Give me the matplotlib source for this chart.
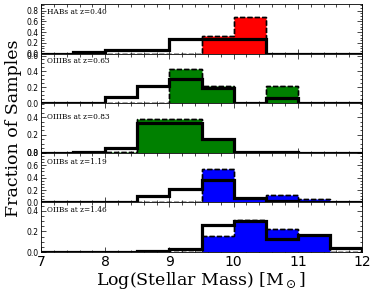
import numpy as np
import matplotlib
matplotlib.use("Agg")
import matplotlib.pyplot as plt
from matplotlib.ticker import MultipleLocator, AutoMinorLocator

edges = np.arange(7.0, 12.01, 0.5)

labels = ["HABs at z=0.40", "OIIIBs at z=0.63", "OIIIBs at z=0.83",
          "OIIBs at z=1.19", "OIIBs at z=1.46"]
colors = ["#ff0000", "#008000", "#008000", "#0000ff", "#0000ff"]

# bins: 7-7.5, 7.5-8, 8-8.5, 8.5-9, 9-9.5, 9.5-10, 10-10.5, 10.5-11, 11-11.5, 11.5-12
all_samples = [
    [0.0, 0.03, 0.063, 0.063, 0.27, 0.27, 0.27, 0.0, 0.0, 0.0],
    [0.0, 0.0, 0.075, 0.21, 0.30, 0.195, 0.0, 0.0625, 0.0, 0.0],
    [0.0, 0.01, 0.05, 0.33, 0.335, 0.15, 0.01, 0.01, 0.0, 0.0],
    [0.0, 0.0, 0.0, 0.10, 0.22, 0.355, 0.07, 0.027, 0.01, 0.0],
    [0.0, 0.0, 0.0, 0.01, 0.033, 0.26, 0.30, 0.13, 0.17, 0.043],
]
selected = [
    [0.0, 0.0, 0.0, 0.0, 0.0, 0.335, 0.68, 0.0, 0.0, 0.0],
    [0.0, 0.0, 0.0, 0.0, 0.43, 0.21, 0.0, 0.215, 0.0, 0.0],
    [0.0, 0.0, 0.01, 0.377, 0.377, 0.155, 0.0, 0.0, 0.0, 0.0],
    [0.0, 0.0, 0.0, 0.0, 0.0, 0.545, 0.065, 0.125, 0.055, 0.0],
    [0.0, 0.0, 0.0, 0.0, 0.0, 0.155, 0.315, 0.22, 0.17, 0.0],
]
ylims = [0.93, 0.625, 0.555, 0.8, 0.48]
label_y = [0.84, 0.84, 0.73, 0.81, 0.85]

fig = plt.figure(figsize=(3.74, 2.98), dpi=100)
left, right, top, bottom = 0.1096, 0.968, 0.987, 0.154
h = (top - bottom) / 5
axes = []
for i in range(5):
    ax = fig.add_axes([left, top - (i + 1) * h, right - left, h])
    axes.append(ax)
    ax.stairs(selected[i], edges, fill=True, facecolor=colors[i],
              edgecolor="black", linestyle="--", linewidth=1.0, zorder=2)
    ax.stairs(selected[i], edges, fill=False, baseline=0,
              color="black", linestyle="--", linewidth=1.0, zorder=2)
    ax.stairs(all_samples[i], edges, fill=False, baseline=0,
              color="black", linewidth=2.3, zorder=3)
    ax.set_xlim(7, 12)
    ax.set_ylim(0, ylims[i])
    ax.yaxis.set_major_locator(MultipleLocator(0.2))
    ax.xaxis.set_major_locator(MultipleLocator(1))
    ax.xaxis.set_minor_locator(AutoMinorLocator(5))
    ax.yaxis.set_minor_locator(AutoMinorLocator(4))
    ax.tick_params(which="both", direction="in", top=True, right=True,
                   width=0.5)
    ax.tick_params(which="major", length=3.5)
    ax.tick_params(which="minor", length=1.8)
    ax.tick_params(axis="y", labelsize=5.5, pad=1.5)
    ax.tick_params(axis="x", labelsize=10, pad=2)
    for s in ax.spines.values():
        s.set_linewidth(0.6)
    ax.text(0.02, label_y[i], labels[i], transform=ax.transAxes,
            fontsize=5.3, family="DejaVu Serif", va="center", ha="left")
    ax.yaxis.set_major_formatter(matplotlib.ticker.FormatStrFormatter("%.1f"))
    if i < 4:
        ax.tick_params(axis="x", labelbottom=False)

axes[-1].set_xlabel(r"Log(Stellar Mass) [M$_\odot$]", family="DejaVu Serif",
                    fontsize=12.5, labelpad=1)
fig.text(0.035, (top + bottom) / 2, "Fraction of Samples", rotation=90,
         family="DejaVu Serif", fontsize=12.5, ha="center", va="center")

fig.savefig("out.png", dpi=100)
